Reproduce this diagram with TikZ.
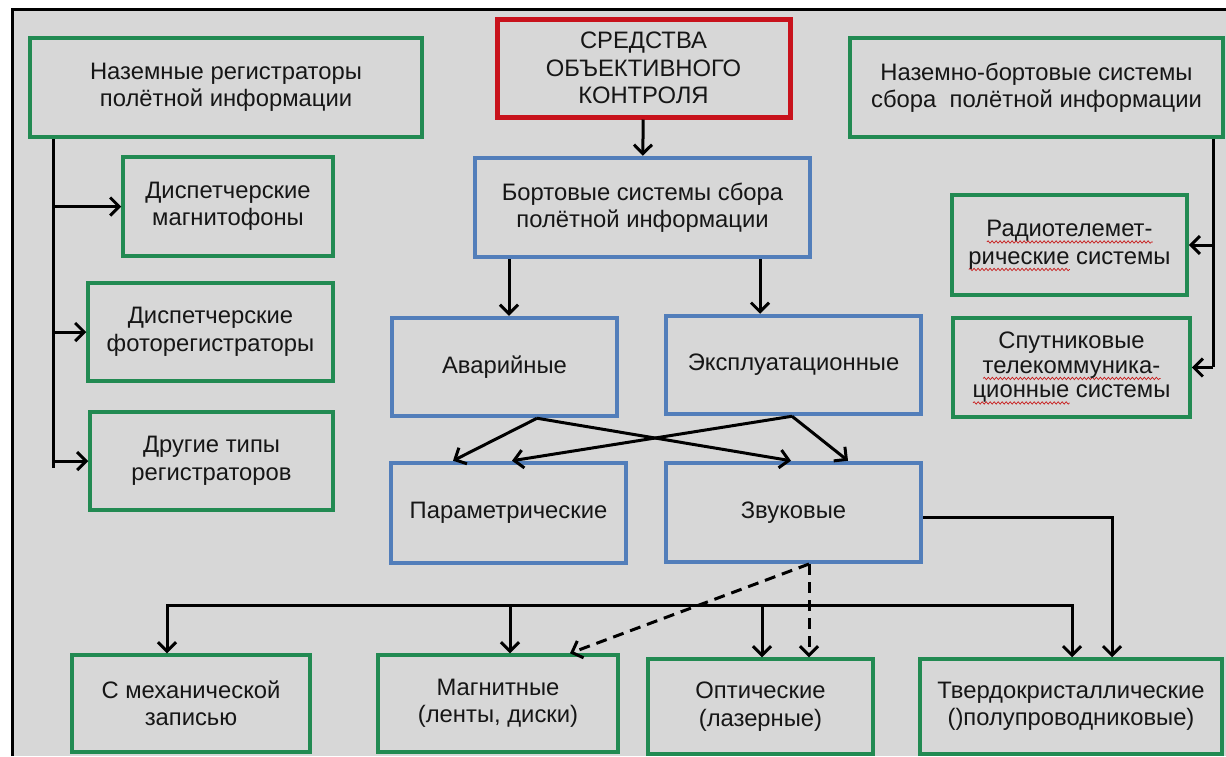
\documentclass[tikz,border=0pt]{standalone}
\usepackage{fontspec}
\setmainfont{Liberation Sans}
\usetikzlibrary{arrows.meta,decorations.pathmorphing}
\definecolor{bg}{RGB}{215,215,215}
\definecolor{gboxc}{RGB}{34,138,82}
\definecolor{bboxc}{RGB}{82,126,186}
\definecolor{rboxc}{RGB}{200,18,28}
\definecolor{txtc}{RGB}{22,22,22}
\definecolor{wavec}{RGB}{200,30,30}
\newlength\wavelen
\newcommand\redwave[1]{\leavevmode\setbox0=\hbox{#1}\wavelen=\wd0\relax
  \makebox[0pt][l]{\raisebox{-5pt}[0pt][0pt]{\tikz[x=1pt,y=1pt,baseline=0pt]\draw[wavec, line width=0.7pt, decorate, decoration={snake, amplitude=1.2pt, segment length=4pt}] (0,0) -- (\wavelen,0);}}\box0\relax}
\begin{document}
\begin{tikzpicture}[x=1pt,y=-1pt,
  every node/.style={font=\fontsize{23.8}{27.5}\selectfont, text=txtc, align=center, inner sep=0pt},
  gbx/.style={draw=gboxc, line width=3.5pt},
  bbx/.style={draw=bboxc, line width=4.5pt},
  rbx/.style={draw=rboxc, line width=5pt},
  ln/.style={line width=3pt, black},
  arr/.style={line width=3pt, black, -{Straight Barb[length=9pt,width=18pt]}},
  darr/.style={arr, dash pattern=on 11pt off 7pt}]
\useasboundingbox (0,0) rectangle (1226,756);
\fill[white] (0,0) rectangle (1226,756);
\fill[bg] (12,9) rectangle (1226,756);
\draw[line width=3pt] (12,756) -- (12,9) -- (1226,9);

% top row
\node[gbx, minimum width=392pt, minimum height=99pt] (ground) at (226,87.5)
  {Наземные регистраторы\\полётной информации};
\node[rbx, minimum width=293pt, minimum height=98pt] (sok) at (643.5,68)
  {СРЕДСТВА\\ОБЪЕКТИВНОГО\\КОНТРОЛЯ};
\node[gbx, minimum width=373pt, minimum height=99pt] (gb) at (1036.5,87.5)
  {Наземно-бортовые системы\\сбора\ \ полётной информации};

% left column
\node[gbx, minimum width=210pt, minimum height=99pt] (disp1) at (228,206.5)
  {Диспетчерские\\магнитофоны};
\node[gbx, minimum width=245pt, minimum height=98pt] (disp2) at (210.5,332)
  {Диспетчерские\\фоторегистраторы};
\node[gbx, minimum width=243pt, minimum height=98pt] (other) at (211.5,461)
  {Другие типы\\регистраторов};

% center
\node[bbx, minimum width=335pt, minimum height=99pt] (onboard) at (642.5,207.5)
  {Бортовые системы сбора\\полётной информации};
\node[bbx, minimum width=225pt, minimum height=98pt] (avar) at (504.5,367) {Аварийные};
\node[bbx, minimum width=255pt, minimum height=98pt] (expl) at (793.5,365) {Эксплуатационные};
\node[bbx, minimum width=235pt, minimum height=100pt] (param) at (508.5,513) {Параметрические};
\node[bbx, minimum width=255pt, minimum height=99pt] (zvuk) at (793.5,512.5) {Звуковые};

% right column
\node[gbx, minimum width=235pt, minimum height=100pt] (radio) at (1069.5,245)
  {\redwave{Радиотелемет-}\\\redwave{рические} системы};
\node[gbx, minimum width=237pt, minimum height=99pt, font=\fontsize{23.8}{24.5}\selectfont] (sat) at (1071.5,367.5)
  {Спутниковые\\\redwave{телекоммуника-}\\\redwave{ционные} системы};

% bottom row
\node[gbx, minimum width=238pt, minimum height=97pt] (mech) at (191,703.5)
  {С механической\\записью};
\node[gbx, minimum width=240pt, minimum height=97pt] (magn) at (498,703.5)
  {Магнитные\\(ленты, диски)};
\node[gbx, minimum width=225pt, minimum height=95pt] (opt) at (760.5,706.5)
  {Оптические\\(лазерные)};
\node[gbx, minimum width=302pt, minimum height=95pt] (tverd) at (1071,706.5)
  {Твердокристаллические\\()полупроводниковые)};

% coordinates
\coordinate (lx) at (53,0);
\coordinate (lend) at (53,468);
\coordinate (rx) at (1213,0);
\coordinate (rend) at (1213,367);
\coordinate (bL) at (167,605);
\coordinate (bM) at (510,605);
\coordinate (bO) at (762,605);
\coordinate (bR) at (1072,605);
\coordinate (ds) at (809,564);
\coordinate (ex1) at (509,0);
\coordinate (ex2) at (760,0);

% connectors
\draw[arr] (sok) -- (onboard);
\draw[arr] (onboard.south -| ex1) -- (avar.north -| ex1);
\draw[arr] (onboard.south -| ex2) -- (expl.north -| ex2);

\draw[arr] ([xshift=32.5pt]avar.south) -- ([xshift=-55.5pt]param.north);
\draw[arr] ([xshift=32.5pt]avar.south) -- ([xshift=-2.5pt]zvuk.north);
\draw[arr] ([xshift=-1.5pt]expl.south) -- ([xshift=3.5pt]param.north);
\draw[arr] ([xshift=-1.5pt]expl.south) -- ([xshift=54.5pt]zvuk.north);

% left bus
\draw[ln] (ground.south -| lx) -- (lend);
\draw[arr] (disp1.west -| lx) -- (disp1.west);
\draw[arr] (disp2.west -| lx) -- (disp2.west);
\draw[arr] (other.west -| lx) -- (other.west);

% right bus
\draw[ln] (gb.south -| rx) -- (rend);
\draw[arr] (radio.east -| rx) -- (radio.east);
\draw[arr] (sat.east -| rx) -- (sat.east);

% bottom bus
\draw[arr] (bM) -| (mech.north -| bL);
\draw[arr] (bM) -| (tverd.north -| bR);
\draw[arr] (bM) -- (magn.north -| bM);
\draw[arr] (bO) -- (opt.north -| bO);

\draw[arr] ([yshift=-4.5pt]zvuk.east) -| ([xshift=41pt]tverd.north);

% dashed
\draw[darr] (ds) -- ([xshift=72pt]magn.north);
\draw[darr] (ds) -- (opt.north -| ds);
\end{tikzpicture}
\end{document}
